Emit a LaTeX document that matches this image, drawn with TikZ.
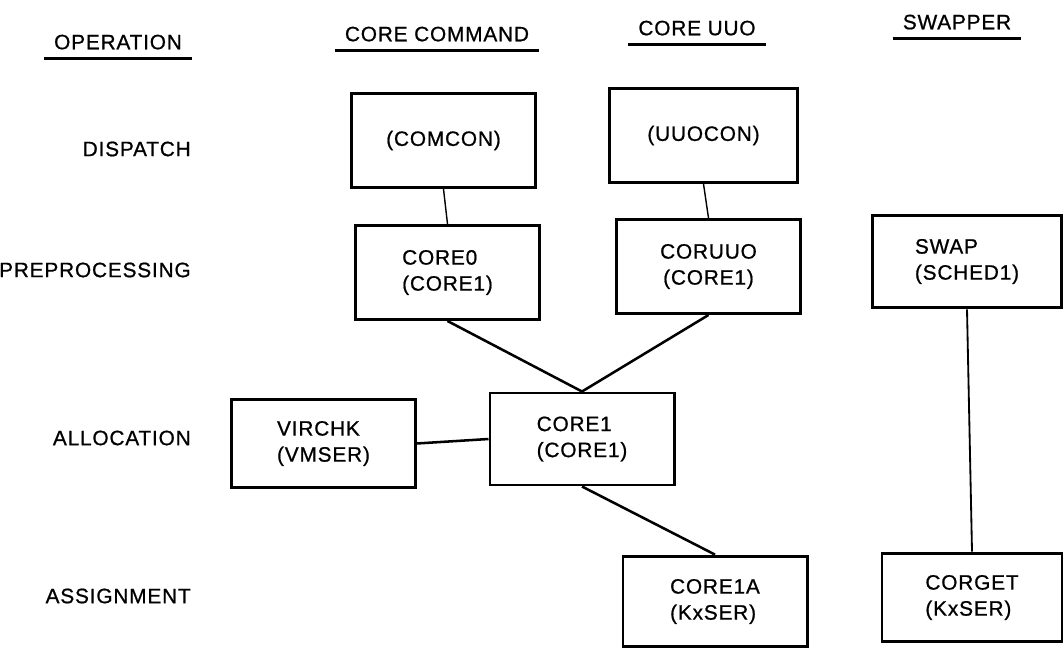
\documentclass[tikz,border=0pt]{standalone}
\usepackage{fontspec}
\newfontfamily\chartfont{Liberation Sans}[LetterSpace=4,FakeBold=0.8]
\newcommand{\chartsize}{\chartfont\fontsize{14.8}{18.5}\selectfont}
\tikzset{
  modbox/.style={draw,line width=2.1pt,minimum width=4.58cm,minimum height=2.35cm,
    align=left,inner sep=0pt,font=\chartsize},
  rowlab/.style={anchor=east,inner sep=0pt,font=\chartsize},
  colhead/.style={inner xsep=7pt,inner ysep=6.4pt,text depth=0pt,font=\chartsize},
  uline/.style={line width=1.8pt},
  thinlink/.style={line width=1pt},
  midlink/.style={line width=1.3pt},
  link/.style={line width=1.8pt}
}

\begin{document}
\begin{tikzpicture}[x=0.025cm,y=-0.025cm]
\useasboundingbox (0,0) rectangle (1063,649);
% column heads, underlined
\node[colhead] (hop) at (118,42) {OPERATION};
\node[colhead] (hcmd) at (437,34) {CORE COMMAND};
\node[colhead] (huuo) at (697,28) {CORE UUO};
\node[colhead] (hswp) at (957,22) {SWAPPER};
\foreach \h in {hop,hcmd,huuo,hswp}
  \draw[uline] (\h.south west) -- (\h.south east);
% row labels
\foreach \lab/\y/\nm in {DISPATCH/149/rdisp,PREPROCESSING/270/rprep,ALLOCATION/438/ralloc,ASSIGNMENT/596/rassign}
  \node[rowlab] (\nm) at (191,\y) {\lab};
% modules
\node[modbox] (comcon) at (443.5,140.5) {(COMCON)};
\node[modbox,minimum width=4.68cm] (uuocon) at (703.5,135.5) {(UUOCON)};
\node[modbox] (core0) at (447.5,272.5) {CORE0\\(CORE1)};
\node[modbox,align=center] (coruuo) at (708.5,266.5) {CORUUO\\(CORE1)};
\node[modbox,minimum width=4.72cm,minimum height=2.32cm] (swap) at (967,261.5) {SWAP\\(SCHED1)};
\node[modbox,minimum height=2.22cm] (virchk) at (323.5,443.5) {VIRCHK\\(VMSER)};
\node[modbox,minimum width=4.6cm,minimum height=2.3cm] (core1) at (582,439) {CORE1\\(CORE1)};
\node[modbox,minimum width=4.6cm,minimum height=2.27cm] (core1a) at (715,601.5) {CORE1A\\(KxSER)};
\node[modbox,minimum width=4.5cm,minimum height=2.22cm] (corget) at (972,597.5) {CORGET\\(KxSER)};
% links
\draw[thinlink] (comcon.south) -- (core0.north);
\draw[thinlink] (uuocon.south) -- (coruuo.north);
\draw[link] (core0.south) -- (core1.north);
\draw[link] (coruuo.south) -- (core1.north);
\draw[link] (virchk.east) -- (core1.west);
\draw[link] (core1.south) -- (core1a.north);
\draw[midlink] (swap.south) -- (corget.north);
\end{tikzpicture}
\end{document}
